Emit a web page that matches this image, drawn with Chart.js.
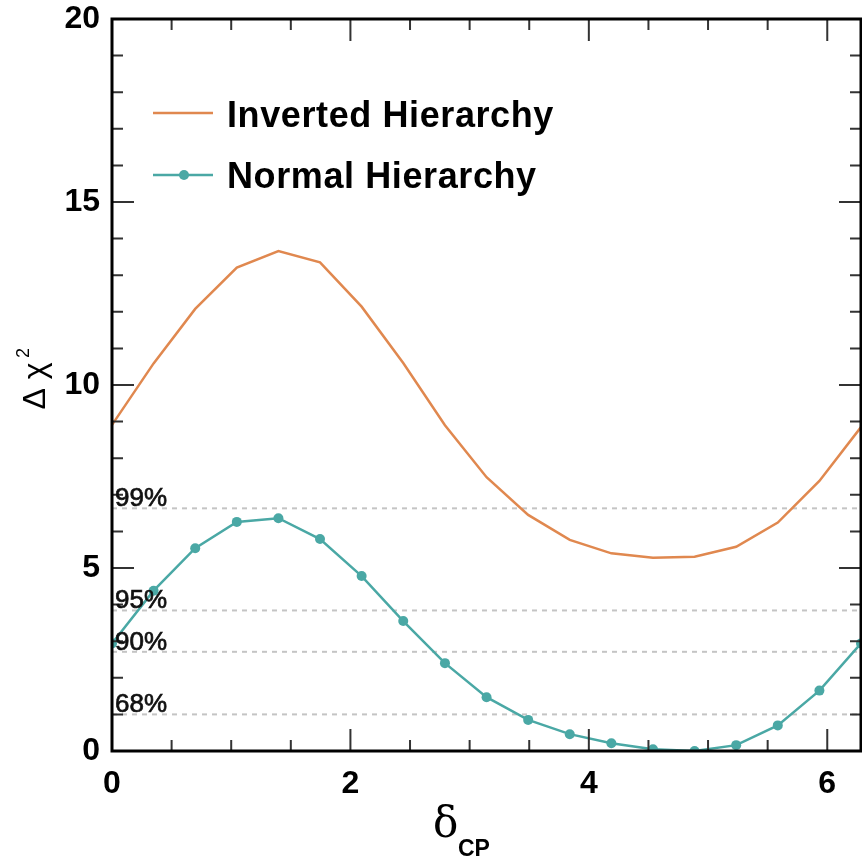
<!DOCTYPE html>
<html>
<head>
<meta charset="utf-8">
<script src="https://cdn.jsdelivr.net/npm/chart.js@4.4.1/dist/chart.umd.min.js"></script>
<style>
  html, body { margin: 0; padding: 0; background: #fff; }
  canvas { display: block; }
</style>
</head>
<body>
<canvas id="chi2Chart" width="862" height="858"></canvas>
<script>
// delta_CP scan points (0 .. 2pi)
const deltaCP = [0, 0.349, 0.698, 1.047, 1.396, 1.745, 2.094, 2.443, 2.793, 3.142,
  3.491, 3.840, 4.189, 4.538, 4.887, 5.236, 5.585, 5.934, 6.283];

const invertedChi2 = [8.91, 10.59, 12.08, 13.21, 13.66, 13.35, 12.14, 10.6, 8.9, 7.48,
  6.45, 5.77, 5.40, 5.28, 5.31, 5.58, 6.24, 7.38, 8.85];

const normalChi2 = [2.94, 4.38, 5.54, 6.26, 6.36, 5.79, 4.78, 3.55, 2.40, 1.47,
  0.85, 0.46, 0.21, 0.05, 0.0, 0.16, 0.70, 1.65, 2.94];

// confidence levels for one degree of freedom
const clLabels = ["99%", "95%", "90%", "68%"];
const clValues = [6.63, 3.84, 2.71, 1.0];

const seriesNames = ["Inverted Hierarchy", "Normal Hierarchy"];

const xMin = 0, xMax = 6.283;
const yMin = 0, yMax = 20;
const xMajor = [0, 2, 4, 6];
const yMajor = [0, 5, 10, 15, 20];

const orange = "#e0884f";
const teal = "#4aa8a5";

const toPoints = (ys) => ys.map((y, i) => ({ x: deltaCP[i], y }));

const clDatasets = clValues.map((v, i) => ({
  label: clLabels[i],
  data: [{ x: xMin, y: v }, { x: xMax, y: v }],
  showLine: true,
  borderColor: "#c4c4c4",
  borderWidth: 2,
  borderDash: [5, 5],
  pointRadius: 0,
  order: 2,
}));

// frame, inward ticks, legend and axis titles
const framePlugin = {
  id: "frame",
  afterDraw(chart) {
    const { ctx, chartArea: a, scales } = chart;
    const xs = scales.x, ys = scales.y;
    ctx.save();

    ctx.strokeStyle = "#333";
    ctx.lineWidth = 2;
    for (let v = 0; v <= xMax; v += 0.5) {
      const px = xs.getPixelForValue(v);
      const len = Number.isInteger(v / 2) ? 22 : 11;
      ctx.beginPath();
      ctx.moveTo(px, a.bottom); ctx.lineTo(px, a.bottom - len);
      ctx.moveTo(px, a.top); ctx.lineTo(px, a.top + len);
      ctx.stroke();
    }
    for (let v = yMin; v <= yMax; v += 1) {
      const py = ys.getPixelForValue(v);
      const len = v % 5 === 0 ? 22 : 11;
      ctx.beginPath();
      ctx.moveTo(a.left, py); ctx.lineTo(a.left + len, py);
      ctx.moveTo(a.right, py); ctx.lineTo(a.right - len, py);
      ctx.stroke();
    }

    ctx.strokeStyle = "#000";
    ctx.lineWidth = 3;
    ctx.strokeRect(a.left, a.top, a.right - a.left, a.bottom - a.top);

    // confidence level labels
    ctx.fillStyle = "#111";
    ctx.strokeStyle = "#111";
    ctx.lineWidth = 0.7;
    ctx.font = "26px 'Liberation Sans', Arial, sans-serif";
    ctx.textAlign = "left";
    ctx.textBaseline = "alphabetic";
    clValues.forEach((v, i) => {
      const py = ys.getPixelForValue(v) - 2;
      ctx.fillText(clLabels[i], a.left + 3, py);
      ctx.strokeText(clLabels[i], a.left + 3, py);
    });

    // legend
    ctx.font = "bold 36px 'Liberation Sans', Arial, sans-serif";
    ctx.letterSpacing = "0.6px";
    ctx.fillStyle = "#000";
    ctx.lineWidth = 2.5;
    ctx.strokeStyle = orange;
    ctx.beginPath(); ctx.moveTo(153, 113); ctx.lineTo(213, 113); ctx.stroke();
    ctx.fillText(seriesNames[0], 227, 127);
    ctx.strokeStyle = teal;
    ctx.beginPath(); ctx.moveTo(153, 175); ctx.lineTo(213, 175); ctx.stroke();
    ctx.fillStyle = teal;
    ctx.beginPath(); ctx.arc(184, 175, 5, 0, Math.PI * 2); ctx.fill();
    ctx.fillStyle = "#000";
    ctx.fillText(seriesNames[1], 227, 188);
    ctx.letterSpacing = "0px";

    // y title
    ctx.save();
    ctx.translate(45, 386);
    ctx.rotate(-Math.PI / 2);
    ctx.font = "32px 'Liberation Sans', Arial, sans-serif";
    ctx.textAlign = "center";
    ctx.fillText("Δ χ", 0, 0);
    ctx.font = "18px 'Liberation Sans', Arial, sans-serif";
    ctx.textAlign = "left";
    ctx.fillText("2", 28, -16);
    ctx.restore();

    // x title
    ctx.font = "42px 'DejaVu Serif', serif";
    ctx.textAlign = "left";
    ctx.fillText("δ", 433, 837);
    ctx.font = "bold 23px 'Liberation Sans', Arial, sans-serif";
    ctx.fillText("CP", 458, 856);

    ctx.restore();
  },
};

new Chart(document.getElementById("chi2Chart"), {
  type: "scatter",
  data: {
    datasets: [
      {
        label: seriesNames[0],
        data: toPoints(invertedChi2),
        showLine: true,
        borderColor: orange,
        borderWidth: 2.5,
        pointRadius: 0,
        order: 0,
      },
      {
        label: seriesNames[1],
        data: toPoints(normalChi2),
        showLine: true,
        borderColor: teal,
        backgroundColor: teal,
        borderWidth: 2.5,
        pointRadius: 5,
        pointBorderWidth: 0,
        order: 0,
      },
      ...clDatasets,
    ],
  },
  options: {
    responsive: false,
    animation: false,
    devicePixelRatio: 1,
    layout: { autoPadding: false, padding: { top: 19, right: 1, left: 0, bottom: 0 } },
    plugins: { legend: { display: false }, tooltip: { enabled: false } },
    scales: {
      x: {
        type: "linear",
        min: xMin,
        max: xMax,
        afterFit: (s) => { s.height = 107; s.paddingLeft = 0; s.paddingRight = 0; },
        afterBuildTicks: (s) => { s.ticks = xMajor.map((v) => ({ value: v })); },
        grid: { display: false, drawTicks: false },
        border: { display: false },
        ticks: {
          color: "#000",
          padding: 14,
          font: { family: "'Liberation Sans', Arial, sans-serif", size: 32, weight: "bold" },
        },
      },
      y: {
        type: "linear",
        min: yMin,
        max: yMax,
        afterFit: (s) => { s.width = 112; s.paddingTop = 0; s.paddingBottom = 0; },
        afterBuildTicks: (s) => { s.ticks = yMajor.map((v) => ({ value: v })); },
        grid: { display: false, drawTicks: false },
        border: { display: false },
        ticks: {
          color: "#000",
          padding: 12,
          font: { family: "'Liberation Sans', Arial, sans-serif", size: 32, weight: "bold" },
        },
      },
    },
  },
  plugins: [framePlugin],
});
</script>
</body>
</html>
